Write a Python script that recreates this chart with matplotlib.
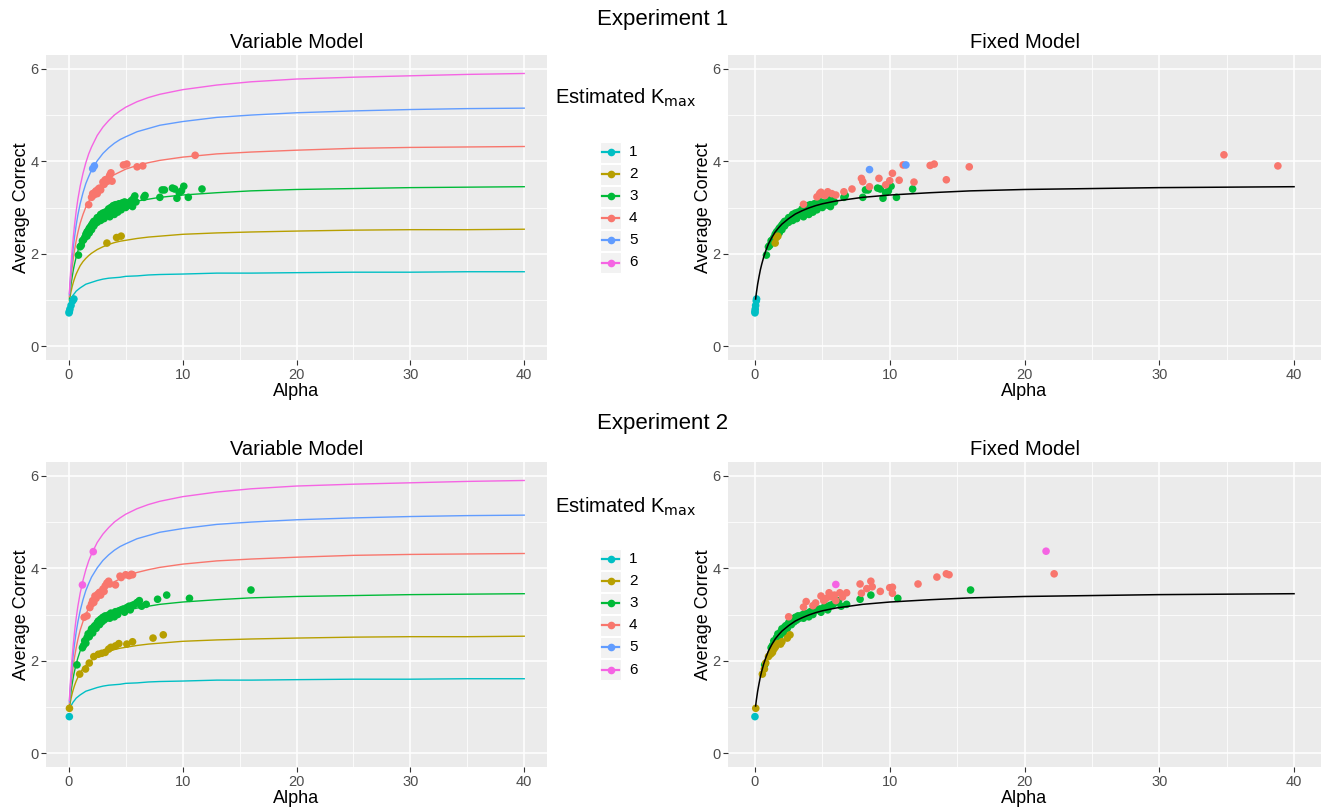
import numpy as np
import matplotlib
matplotlib.use("Agg")
import matplotlib.pyplot as plt
from matplotlib.lines import Line2D
from matplotlib.patches import Rectangle

plt.rcParams['font.family'] = ['Liberation Sans', 'DejaVu Sans']

W, H = 1323, 807

# ---- model curves ----
alpha_grid = [0.05, 0.1, 0.15, 0.2, 0.3, 0.4, 0.5, 0.65, 0.8, 1, 1.25, 1.5, 1.75, 2, 2.5, 3, 3.5, 4, 4.5,
              5, 6, 7, 8, 10, 13, 16, 20, 25, 30, 35, 40]
curve_k1 = [0.93, 0.97, 1.00, 1.02, 1.07, 1.11, 1.14, 1.19, 1.22, 1.26, 1.30, 1.34, 1.36, 1.38, 1.42, 1.45,
            1.47, 1.48, 1.49, 1.51, 1.52, 1.54, 1.55, 1.56, 1.58, 1.58, 1.59, 1.60, 1.60, 1.61, 1.61]
curve_k2 = [0.98, 1.05, 1.12, 1.18, 1.29, 1.38, 1.46, 1.56, 1.64, 1.74, 1.83, 1.90, 1.96, 2.01, 2.09, 2.15,
            2.20, 2.24, 2.27, 2.29, 2.33, 2.36, 2.38, 2.42, 2.45, 2.47, 2.49, 2.51, 2.52, 2.52, 2.53]
curve_k3 = [1.02, 1.14, 1.24, 1.34, 1.50, 1.65, 1.77, 1.93, 2.06, 2.21, 2.35, 2.47, 2.56, 2.64, 2.76, 2.86,
            2.93, 2.99, 3.04, 3.08, 3.14, 3.18, 3.22, 3.27, 3.32, 3.36, 3.39, 3.41, 3.43, 3.44, 3.45]
curve_k4 = [1.07, 1.22, 1.36, 1.49, 1.71, 1.90, 2.07, 2.28, 2.46, 2.66, 2.85, 3.01, 3.13, 3.24, 3.41, 3.53,
            3.63, 3.71, 3.77, 3.83, 3.91, 3.97, 4.02, 4.09, 4.16, 4.20, 4.24, 4.28, 4.30, 4.31, 4.32]
curve_k5 = [1.11, 1.30, 1.47, 1.63, 1.91, 2.15, 2.35, 2.62, 2.84, 3.08, 3.32, 3.52, 3.67, 3.81, 4.01, 4.17,
            4.29, 4.39, 4.47, 4.53, 4.64, 4.71, 4.78, 4.86, 4.95, 5.00, 5.05, 5.09, 5.12, 5.14, 5.15]
curve_k6 = [1.14, 1.37, 1.57, 1.75, 2.08, 2.36, 2.61, 2.92, 3.18, 3.46, 3.74, 3.97, 4.16, 4.31, 4.56, 4.74,
            4.88, 5.00, 5.09, 5.17, 5.29, 5.38, 5.45, 5.55, 5.65, 5.72, 5.78, 5.82, 5.85, 5.88, 5.90]
# fixed model curve equals the K=3 curve
curve_fixed = curve_k3

k_labels = ['1', '2', '3', '4', '5', '6']
k_colors = ['#00BFC4', '#B79F00', '#00BA38', '#F8766D', '#619CFF', '#F564E3']

# ---- Experiment 1 data ----
e1_var_k1_a = [0.02, 0.05, 0.1, 0.2, 0.35, 0.45]
e1_k1_y = [0.72, 0.75, 0.80, 0.88, 0.98, 1.02]
e1_fix_k1_a = [0.0, 0.0, 0.02, 0.05, 0.1, 0.12]

e1_var_k2_a = [3.35, 4.2, 4.6]
e1_k2_y = [2.23, 2.35, 2.38]
e1_fix_k2_a = [1.5, 1.6, 1.7]

e1_k3_a = [0.85, 1.0, 1.1, 1.2, 1.3, 1.4, 1.5, 1.6, 1.6, 1.7, 1.8, 1.8, 1.9, 2.0, 2.0, 2.1, 2.2, 2.2,
           2.3, 2.4, 2.5, 2.5, 2.6, 2.7, 2.8, 2.8, 2.9, 3.0, 3.0, 3.1, 3.2, 3.3, 3.4, 3.5, 3.5, 3.6,
           3.7, 3.8, 3.9, 4.0, 4.0, 4.1, 4.2, 4.3, 4.4, 4.5, 4.6, 4.7, 4.8, 4.9, 5.0, 5.1, 5.2, 5.4,
           5.5, 5.6, 5.7, 5.8, 5.9, 6.6, 6.7, 8.0, 8.2, 8.4, 9.1, 9.3, 9.5, 9.7, 9.9, 10.1, 10.5, 11.7]
e1_k3_y = [1.97, 2.15, 2.18, 2.28, 2.30, 2.35, 2.42, 2.38, 2.47, 2.50, 2.45, 2.55, 2.58, 2.52, 2.62, 2.66, 2.60, 2.70,
           2.65, 2.72, 2.68, 2.78, 2.74, 2.80, 2.72, 2.85, 2.78, 2.88, 2.82, 2.76, 2.90, 2.84, 2.92, 2.86, 2.97, 2.80,
           3.00, 2.92, 3.04, 2.96, 2.85, 3.06, 2.98, 2.90, 3.08, 3.02, 2.95, 3.10, 3.05, 3.12, 3.00, 3.08, 3.10, 3.05,
           3.15, 3.02, 3.20, 3.25, 3.12, 3.22, 3.26, 3.22, 3.38, 3.38, 3.42, 3.40, 3.20, 3.32, 3.36, 3.46, 3.22, 3.40]

e1_var_k4_a = [1.75, 2.0, 2.1, 2.2, 2.3, 2.4, 2.5, 2.6, 2.7, 2.8, 3.0, 3.1, 3.2, 3.3, 3.4, 3.5, 3.6, 3.7, 3.8,
               4.8, 5.1, 6.0, 6.5, 11.1]
e1_var_k4_y = [3.06, 3.22, 3.30, 3.27, 3.33, 3.36, 3.30, 3.40, 3.42, 3.38, 3.55, 3.50, 3.60, 3.56, 3.62, 3.58, 3.70,
               3.75, 3.57, 3.92, 3.94, 3.88, 3.90, 4.13]
e1_fix_k4_a = [3.6, 4.6, 4.8, 4.9, 5.0, 5.2, 5.4, 5.7, 6.0, 6.6, 7.2, 7.9, 8.0, 8.5, 9.2, 9.7, 10.0, 10.2, 10.7,
               11.0, 11.8, 13.0, 13.3, 14.2, 15.9, 34.8, 38.8]
e1_fix_k4_y = [3.07, 3.23, 3.30, 3.33, 3.28, 3.26, 3.34, 3.30, 3.27, 3.34, 3.40, 3.63, 3.56, 3.45, 3.63, 3.49, 3.58,
               3.74, 3.59, 3.92, 3.55, 3.91, 3.94, 3.60, 3.88, 4.14, 3.90]

e1_var_k5_a = [2.1, 2.25]
e1_var_k5_y = [3.84, 3.90]
e1_fix_k5_a = [8.5, 11.2]
e1_fix_k5_y = [3.82, 3.92]

# ---- Experiment 2 data ----
e2_var_k1_a = [0.05]
e2_fix_k1_a = [0.0]
e2_k1_y = [0.79]

e2_var_k2_a = [0.06, 0.96, 1.47, 1.8, 2.2, 2.6, 2.9, 3.2, 3.5, 3.7, 4.1, 4.4, 5.1, 5.6, 7.4, 8.3]
e2_fix_k2_a = [0.06, 0.55, 0.7, 0.8, 1.0, 1.15, 1.2, 1.3, 1.4, 1.5, 1.55, 1.7, 1.9, 2.0, 2.4, 2.6]
e2_k2_y = [0.97, 1.71, 1.82, 1.95, 2.09, 2.14, 2.16, 2.18, 2.25, 2.29, 2.32, 2.37, 2.36, 2.41, 2.49, 2.56]

e2_k3_a = [0.72, 1.2, 1.3, 1.4, 1.5, 1.6, 1.7, 1.8, 1.9, 2.0, 2.1, 2.2, 2.3, 2.4, 2.5, 2.6, 2.7, 2.8, 2.9,
           3.0, 3.1, 3.2, 3.3, 3.5, 3.6, 3.7, 3.9, 4.0, 4.1, 4.3, 4.4, 4.6, 4.8, 4.9, 5.1, 5.3, 5.4, 5.6,
           5.8, 6.0, 6.2, 6.4, 6.8, 7.8, 8.6, 10.6, 16.0]
e2_k3_y = [1.91, 2.28, 2.33, 2.43, 2.38, 2.50, 2.58, 2.52, 2.62, 2.69, 2.60, 2.73, 2.76, 2.70, 2.82, 2.86, 2.78,
           2.90, 2.84, 2.94, 2.88, 2.97, 2.92, 2.99, 2.92, 3.03, 3.02, 2.95, 3.06, 3.00, 3.08, 3.10, 3.12, 3.05,
           3.15, 3.18, 3.10, 3.20, 3.22, 3.26, 3.30, 3.18, 3.22, 3.33, 3.42, 3.35, 3.53]

e2_var_k4_a = [1.35, 1.6, 1.85, 2.0, 2.1, 2.2, 2.3, 2.4, 2.55, 2.7, 2.8, 3.0, 3.1, 3.2, 3.35, 3.5, 3.6, 4.1,
               4.5, 4.6, 5.0, 5.3, 5.5, 5.6]
e2_var_k4_y = [2.94, 2.97, 3.15, 3.23, 3.30, 3.26, 3.40, 3.35, 3.44, 3.48, 3.42, 3.55, 3.50, 3.62, 3.68, 3.72,
               3.66, 3.64, 3.83, 3.80, 3.86, 3.84, 3.87, 3.86]
e2_fix_k4_a = [2.5, 3.6, 3.8, 4.3, 4.5, 4.9, 5.1, 5.3, 5.5, 5.7, 5.9, 6.0, 6.3, 6.5, 6.8, 7.8, 7.9, 8.3, 8.6,
               8.7, 9.3, 10.0, 10.2, 10.2, 12.1, 13.5, 14.2, 14.4, 22.2]
e2_fix_k4_y = [2.95, 3.16, 3.28, 3.19, 3.25, 3.40, 3.30, 3.35, 3.47, 3.38, 3.42, 3.30, 3.47, 3.38, 3.47, 3.66,
               3.46, 3.56, 3.72, 3.60, 3.50, 3.58, 3.59, 3.46, 3.66, 3.81, 3.88, 3.86, 3.88]

e2_var_k6_a = [1.2, 2.15]
e2_var_k6_y = [3.64, 4.36]
e2_fix_k6_a = [6.0, 21.6]
e2_fix_k6_y = [3.65, 4.37]

curves = [curve_k1, curve_k2, curve_k3, curve_k4, curve_k5, curve_k6]


def px_axes(fig, left, top, right, bottom):
    return fig.add_axes([left / W, 1 - bottom / H, (right - left) / W, (bottom - top) / H])


def fig_text(fig, x, y, s, **kw):
    fig.text(x / W, 1 - y / H, s, **kw)


def gg_style(ax):
    ax.set_facecolor('#EBEBEB')
    for sp in ax.spines.values():
        sp.set_visible(False)
    ax.set_xlim(-2, 42)
    ax.set_ylim(-0.3, 6.3)
    ax.set_xticks([0, 10, 20, 30, 40])
    ax.set_yticks([0, 2, 4, 6])
    ax.set_xticks([5, 15, 25, 35], minor=True)
    ax.set_yticks([1, 3, 5], minor=True)
    ax.grid(which='major', color='white', lw=1.1)
    ax.grid(which='minor', color='white', lw=0.55)
    ax.set_axisbelow(True)
    ax.tick_params(which='major', length=3.5, width=0.8, color='#333333',
                   labelcolor='#4D4D4D', labelsize=10.5, pad=2)
    ax.tick_params(which='minor', length=0)
    ax.set_xlabel('Alpha', fontsize=13, labelpad=1)
    ax.set_ylabel('Average Correct', fontsize=13, labelpad=0)


def scatter(ax, xs, ys, k):
    ax.scatter(xs, ys, s=30, color=k_colors[k - 1], edgecolors='none', zorder=3)


def variable_panel(ax, groups):
    gg_style(ax)
    for i, c in enumerate(curves):
        ax.plot(alpha_grid, c, color=k_colors[i], lw=1.0, zorder=2)
    for xs, ys, k in groups:
        scatter(ax, xs, ys, k)
    ax.set_title('Variable Model', fontsize=14.5, pad=5)


def fixed_panel(ax, groups):
    gg_style(ax)
    for xs, ys, k in groups:
        scatter(ax, xs, ys, k)
    ax.plot(alpha_grid, curve_fixed, color='black', lw=1.1, zorder=4)
    ax.set_title('Fixed Model', fontsize=14.5, pad=5)


def legend(fig, title_y, first_row_y):
    fig_text(fig, 555, title_y, 'Estimated K$_{\\mathrm{max}}$', fontsize=14.5, va='center', ha='left')
    for i, lab in enumerate(k_labels):
        cy = first_row_y + i * 22.1
        fig.add_artist(Rectangle((600 / W, 1 - (cy + 10.5) / H), 21 / W, 21 / H,
                                 transform=fig.transFigure, facecolor='#F2F2F2', edgecolor='white', lw=0.8))
        fig.add_artist(Line2D([602 / W, 619 / W], [1 - cy / H, 1 - cy / H], transform=fig.transFigure,
                              color=k_colors[i], lw=1.6))
        fig.add_artist(Line2D([610.5 / W], [1 - cy / H], transform=fig.transFigure, marker='o',
                              markersize=5.5, color=k_colors[i], markeredgewidth=0))
        fig_text(fig, 629, cy, lab, fontsize=11, va='center', ha='left')


fig = plt.figure(figsize=(W / 100, H / 100), dpi=100)
fig.patch.set_facecolor('white')

# Experiment 1
ax1 = px_axes(fig, 46, 55, 547, 360)
variable_panel(ax1, [(e1_var_k1_a, e1_k1_y, 1), (e1_var_k2_a, e1_k2_y, 2), (e1_k3_a, e1_k3_y, 3),
                     (e1_var_k4_a, e1_var_k4_y, 4), (e1_var_k5_a, e1_var_k5_y, 5)])
ax2 = px_axes(fig, 728, 55, 1321, 360)
fixed_panel(ax2, [(e1_fix_k1_a, e1_k1_y, 1), (e1_k3_a, e1_k3_y, 3), (e1_fix_k2_a, e1_k2_y, 2),
                  (e1_fix_k4_a, e1_fix_k4_y, 4), (e1_fix_k5_a, e1_fix_k5_y, 5)])
fig_text(fig, 663, 20, 'Experiment 1', fontsize=16, ha='center', va='center')
legend(fig, 98, 152)

# Experiment 2
ax3 = px_axes(fig, 46, 462, 547, 767)
variable_panel(ax3, [(e2_var_k1_a, e2_k1_y, 1), (e2_var_k2_a, e2_k2_y, 2), (e2_k3_a, e2_k3_y, 3),
                     (e2_var_k4_a, e2_var_k4_y, 4), (e2_var_k6_a, e2_var_k6_y, 6)])
ax4 = px_axes(fig, 728, 462, 1321, 767)
fixed_panel(ax4, [(e2_fix_k1_a, e2_k1_y, 1), (e2_k3_a, e2_k3_y, 3), (e2_fix_k2_a, e2_k2_y, 2),
                  (e2_fix_k4_a, e2_fix_k4_y, 4), (e2_fix_k6_a, e2_fix_k6_y, 6)])
fig_text(fig, 663, 423, 'Experiment 2', fontsize=16, ha='center', va='center')
legend(fig, 507, 559)

fig.savefig('out.png', dpi=100)
